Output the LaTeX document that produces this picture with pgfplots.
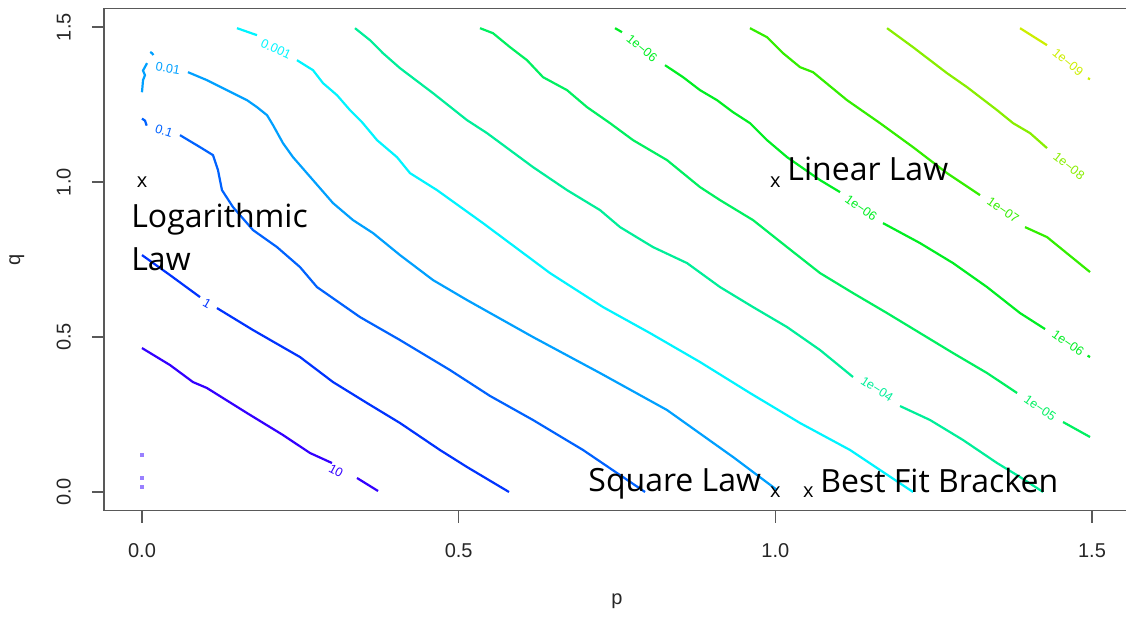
\documentclass[border=0pt]{standalone}
\usepackage{fontspec}
\setmainfont{Liberation Sans}
\newfontfamily\annot{Open Sans}
\usepackage{pgfplots}
\pgfplotsset{compat=1.18}
\definecolor{c10}{HTML}{3300FF}
\definecolor{c1}{HTML}{0033FF}
\definecolor{c01}{HTML}{0062FF}
\definecolor{c001}{HTML}{00A0FF}
\definecolor{c0001}{HTML}{00F4FF}
\definecolor{c4}{HTML}{00EE99}
\definecolor{c5}{HTML}{00F060}
\definecolor{c6}{HTML}{00EE22}
\definecolor{c7}{HTML}{33EE00}
\definecolor{c8}{HTML}{88EE00}
\definecolor{c9}{HTML}{CCEE00}
\begin{document}
\begin{tikzpicture}
\begin{axis}[
  scale only axis, width=513pt, height=251pt,
  xmin=-0.06, xmax=1.56, ymin=-0.06, ymax=1.56,
  axis line style={draw=black!65, line width=0.8pt},
  tick style={draw=black!65, line width=0.7pt},
  tick align=outside, tick pos=left, major tick length=6pt,
  xtick={0,0.5,1,1.5}, xticklabels={0.0,0.5,1.0,1.5},
  ytick={0,0.5,1,1.5}, yticklabels={0.0,0.5,1.0,1.5},
  ticklabel style={font=\fontsize{10}{12}\selectfont, text=black!85},
  xticklabel shift=7pt, yticklabel shift=7pt,
  yticklabel style={rotate=90, anchor=south},
  xlabel={p}, ylabel={q},
  label style={font=\fontsize{10}{12}\selectfont, text=black!85},
  xlabel style={at={(axis description cs:0.5,-0.18)}, anchor=center},
  ylabel style={at={(axis description cs:-0.085,0.5)}, anchor=center},
  unbounded coords=jump,
  every axis plot/.append style={line width=1.1pt},
]
\coordinate (SW) at (rel axis cs:0,0);
% 10
\addplot[c10] coordinates {(0,0.4645) (0.0442,0.4097) (0.0805,0.3548) (0.1026,0.3355) (0.1658,0.2548) (0.2226,0.1839) (0.2653,0.1258) (0.3000,0.0935) (0.32,nan) (0.3395,0.0452) (0.3727,0.0032)};
\addplot[only marks, mark=square*, mark size=0.35pt, color=c10!50, mark options={draw=none}] coordinates {(0,0.119) (0,0.045) (0,0.016)};
% 1
\addplot[c1] coordinates {(0,0.7645) (0.0442,0.70) (0.0916,0.629) (0.1,nan) (0.1184,0.5935) (0.1753,0.5226) (0.2495,0.4355) (0.3016,0.3548) (0.3553,0.2871) (0.4074,0.2226) (0.4705,0.1355) (0.5132,0.0806) (0.5795,0.0)};
% 0.1
\addplot[c01] coordinates {(0,1.205) (0.0047,1.1984) (0.0074,1.1823)};
\addplot[c01] coordinates {(0.06,1.1516) (0.0916,1.1129) (0.1121,1.0871) (0.12,1.0387) (0.1263,0.9742) (0.1437,0.9194) (0.1753,0.8452) (0.2132,0.7903) (0.2495,0.7258) (0.2763,0.6613) (0.3442,0.5645) (0.4074,0.4903) (0.4863,0.3935) (0.5495,0.31) (0.6174,0.2323) (0.6964,0.1355) (0.7943,0.0)};
% 0.01
\addplot[c001] coordinates {(0.013,1.42) (0.0158,1.416) (0.018,1.41)};
\addplot[c001] coordinates {(0.008,1.384) (0.0016,1.36) (0.0047,1.345) (0.0016,1.329) (0,1.29)};
\addplot[c001] coordinates {(0.0726,1.3548) (0.1026,1.329) (0.1437,1.2871) (0.1658,1.2645) (0.1816,1.2419) (0.1974,1.2161) (0.2069,1.1839) (0.2226,1.1258) (0.2384,1.0806) (0.27,1.0065) (0.3016,0.9323) (0.3332,0.8774) (0.3648,0.8355) (0.4074,0.7645) (0.4595,0.6839) (0.5132,0.6194) (0.6174,0.5) (0.7232,0.3839) (0.829,0.2645) (0.9332,0.1129) (1.0027,0.0065)};
% 0.001
\addplot[c0001] coordinates {(0.15,1.4968) (0.1816,1.4742) (0.21,nan) (0.2447,1.3935) (0.27,1.3613) (0.2858,1.3194) (0.3079,1.2806) (0.3284,1.2323) (0.3474,1.1935) (0.3711,1.1355) (0.4026,1.0806) (0.4232,1.029) (0.4658,0.9742) (0.5384,0.8677) (0.6442,0.7065) (0.7279,0.5968) (0.8021,0.5129) (0.8811,0.4194) (0.96,0.3194) (1.039,0.2226) (1.118,0.1355) (1.1653,0.071) (1.2174,0.0)};
% 1e-04
\addplot[c4] coordinates {(0.3363,1.4968) (0.36,1.4581) (0.3805,1.4161) (0.4074,1.3677) (0.4595,1.2871) (0.5132,1.2) (0.5448,1.1581) (0.6174,1.0484) (0.6711,0.9742) (0.7232,0.9097) (0.7548,0.8548) (0.8069,0.7903) (0.8606,0.7387) (0.9127,0.6613) (0.9648,0.5968) (1.0185,0.5323) (1.0706,0.4581) (1.1227,0.371) (1.15,nan) (1.1969,0.2774) (1.2443,0.2323) (1.2964,0.1677) (1.3501,0.0935) (1.3864,0.0484) (1.4227,0.0)};
% 1e-05
\addplot[c5] coordinates {(0.5337,1.4968) (0.5542,1.4806) (0.5811,1.4355) (0.6079,1.3935) (0.6332,1.3387) (0.6711,1.2968) (0.7027,1.2419) (0.739,1.1903) (0.7753,1.1355) (0.829,1.071) (0.8811,0.9839) (0.9127,0.9419) (0.9648,0.8774) (1.0185,0.7903) (1.0706,0.7065) (1.1227,0.6419) (1.1764,0.5774) (1.2285,0.5129) (1.2806,0.4484) (1.3343,0.3839) (1.3817,0.3194) (1.42,nan) (1.4543,0.2258) (1.4969,0.1774)};
% 1e-06
\addplot[c6] coordinates {(0.7469,1.4968) (0.7579,1.4839) (0.78,nan) (0.8258,1.3774) (0.8543,1.3387) (0.8811,1.2968) (0.9079,1.2645) (0.9332,1.2258) (0.96,1.1903) (0.9869,1.1355) (1.0185,1.0806) (1.0706,1.0065) (1.1022,0.9677) (1.13,nan) (1.17,0.8677) (1.2285,0.8032) (1.2806,0.7387) (1.3343,0.6613) (1.3864,0.5774) (1.4259,0.5258) (1.45,nan) (1.4930,0.440) (1.4969,0.4355)};
% 1e-07
\addplot[c7] coordinates {(0.96,1.4968) (0.9869,1.4677) (1.0122,1.4161) (1.039,1.371) (1.0595,1.3548) (1.1132,1.2645) (1.1653,1.1903) (1.2174,1.1129) (1.2711,1.029) (1.3232,0.958) (1.35,nan) (1.3943,0.8548) (1.429,0.8226) (1.4969,0.7097)};
% 1e-08
\addplot[c8] coordinates {(1.1764,1.4968) (1.2174,1.4355) (1.2711,1.3516) (1.3027,1.3065) (1.3501,1.2323) (1.3754,1.1903) (1.4022,1.1581) (1.429,1.1097)};
% 1e-09
\addplot[c9] coordinates {(1.3864,1.4968) (1.429,1.4419)};
\addplot[c9] coordinates {(1.4935,1.3353) (1.4969,1.3323)};
% contour labels
\begin{scope}[every node/.style={inner sep=0, font=\fontsize{6.3}{7}\selectfont}]
\node[rotate=-28, text=c10] at (axis cs:0.3063,0.0677) {10};
\node[rotate=-30, text=c1] at (axis cs:0.1026,0.6097) {1};
\node[rotate=-18, text=c01] at (axis cs:0.0347,1.1645) {0.1};
\node[rotate=-10, text=c001] at (axis cs:0.041,1.3677) {0.01};
\node[rotate=-25, text=c0001] at (axis cs:0.2116,1.429) {0.001};
\node[rotate=-33, text=c4] at (axis cs:1.1606,0.3323) {1e−04};
\node[rotate=-35, text=c5] at (axis cs:1.418,0.271) {1e−05};
\node[rotate=-40, text=c6] at (axis cs:0.7895,1.4323) {1e−06};
\node[rotate=-35, text=c6] at (axis cs:1.1353,0.9161) {1e−06};
\node[rotate=-35, text=c6] at (axis cs:1.4622,0.4806) {1e−06};
\node[rotate=-35, text=c7] at (axis cs:1.3595,0.9097) {1e−07};
\node[rotate=-38, text=c8] at (axis cs:1.4637,1.0516) {1e−08};
\node[rotate=-40, text=c9] at (axis cs:1.4622,1.3871) {1e−09};
\end{scope}
% law points
\addplot[only marks, mark=none, nodes near coords={x},
  every node near coord/.append style={anchor=center, inner sep=0, font=\annot\fontsize{10}{12}\selectfont, text=black}]
  coordinates {(0,1) (1,1) (1,0) (1.052,0)};
\begin{scope}[every node/.style={anchor=base west, inner sep=0, font=\annot\fontsize{16}{19}\selectfont, text=black}]
\node at (axis cs:-0.0174,0.8548) {Logarithmic};
\node at (axis cs:-0.0174,0.7161) {Law};
\node at (axis cs:1.0185,1.0065) {Linear Law};
\node at (axis cs:0.7043,0.0) {Square Law};
\node at (axis cs:1.0706,-0.003) {Best Fit Bracken};
\end{scope}
\end{axis}
\pgfresetboundingbox
\path[use as bounding box] ([shift={(-52pt,-54.2pt)}]SW) rectangle ([shift={(511pt,255.3pt)}]SW);
\end{tikzpicture}
\end{document}
